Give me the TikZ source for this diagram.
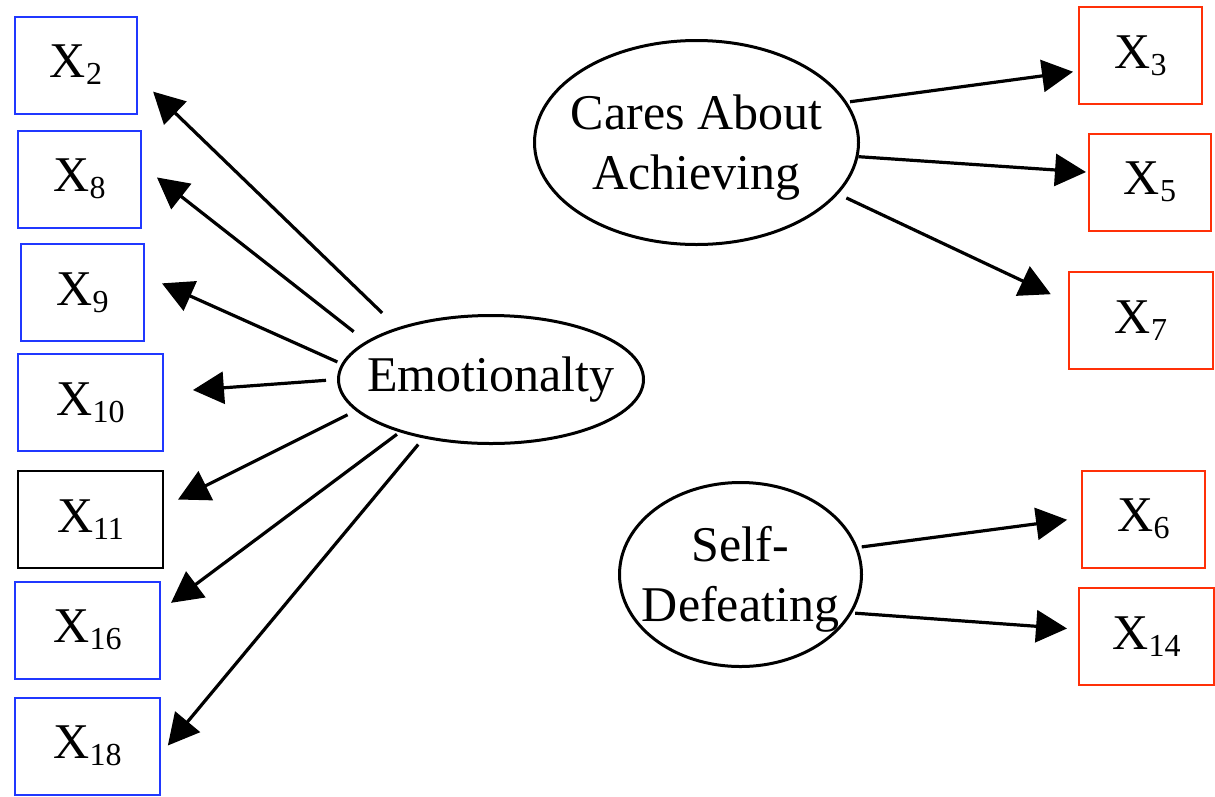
\documentclass[tikz,border=0pt]{standalone}
\usepackage{fontspec}
\setmainfont{LiberationSerif}[Extension=.ttf, UprightFont=*-Regular,
  BoldFont=*-Bold, ItalicFont=*-Italic]
\usetikzlibrary{arrows.meta,shapes.geometric}
\definecolor{itemblue}{RGB}{32,56,255}
\definecolor{itemred}{RGB}{255,48,8}
\newcommand{\xv}[1]{X\raisebox{-7pt}{\fontsize{32}{32}\selectfont #1}}
\newcommand{\ctr}[2][0pt]{\makebox[0pt]{\raisebox{-#1}[\height][\depth]{#2}}}

\begin{document}
\begin{tikzpicture}[x=1pt, y=-1pt,
    font=\fontsize{50}{60}\selectfont,
    item/.style={draw=#1, line width=2pt, inner sep=0pt, minimum height=97pt},
    item/.default=itemblue,
    factor/.style={ellipse, draw, line width=3pt, inner sep=0pt, align=center},
    loading/.style={-{Triangle[length=31pt,width=32pt]}, line width=3.2pt}]

  \useasboundingbox (0,0) rectangle (1215,796);

  % latent factors
  \node[factor, minimum width=305pt, minimum height=128pt] (emo) at (491,379.5)
    {\ctr{Emotionalty}};
  \node[factor, minimum width=324pt, minimum height=204pt] (cares) at (696.5,142.5)
    {\ctr[5pt]{Cares About}\\\ctr[5pt]{Achieving}};
  \node[factor, minimum width=242pt, minimum height=184pt] (self) at (740.5,574.5)
    {\ctr[5pt]{Self-}\\\ctr[5pt]{Defeating}};

  % items of Emotionalty
  \node[item, minimum width=122pt] (x2) at (76,65) {\xv{2}};
  \node[item, minimum width=123pt] (x8) at (79.5,179) {\xv{8}};
  \node[item, minimum width=123pt] (x9) at (82.5,292.5) {\xv{9}};
  \node[item, minimum width=145pt] (x10) at (90.5,402.5) {\xv{10}};
  \node[item=black, minimum width=145pt] (x11) at (90.5,519.5) {\xv{11}};
  \node[item, minimum width=145pt] (x16) at (87.5,630) {\xv{16}};
  \node[item, minimum width=145pt] (x18) at (87.5,746) {\xv{18}};

  % items of the other two factors
  \node[item=itemred, minimum width=123pt] (x3) at (1140.5,55.5) {\xv{3}};
  \node[item=itemred, minimum width=122pt] (x5) at (1150,182) {\xv{5}};
  \node[item=itemred, minimum width=144pt] (x7) at (1141,320.5) {\xv{7}};
  \node[item=itemred, minimum width=123pt] (x6) at (1143.5,519) {\xv{6}};
  \node[item=itemred, minimum width=135pt] (x14) at (1146.5,636.5) {\xv{14}};

  \foreach \f/\a/\t/\b/\s/\e in {
      emo/151/x2/-11/21pt/21pt, emo/163/x8/12/15.6pt/19pt,
      emo/174/x9/15/4.5pt/18.6pt, emo/180/x10/8/11pt/29pt,
      emo/193/x11/10/9pt/15.7pt, emo/210/x16/15/3.4pt/12.5pt,
      emo/221/x18/-6/8pt/10.7pt,
      cares/15/x3/194/3pt/5pt, cares/-5/x5/171/0pt/2pt,
      cares/-20/x7/166/9pt/19pt,
      self/13/x6/179/4pt/14pt, self/-19/x14/174/3pt/11pt}
    \draw[loading, shorten <=\s, shorten >=\e] (\f.\a) -- (\t.\b);
\end{tikzpicture}
\end{document}
